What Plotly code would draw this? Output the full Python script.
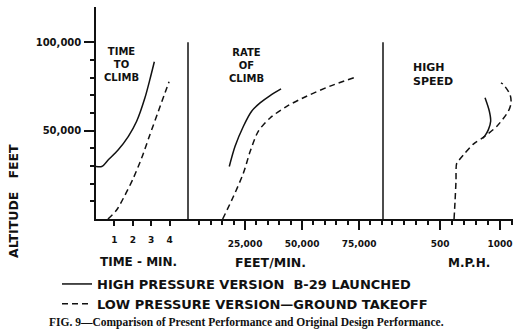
import plotly.graph_objects as go

W, H = 526, 336

# ---------------- data ----------------
# Panel 1: time to climb (minutes) vs altitude (ft)
time_hp_min = [0.0, 0.31, 0.67, 1.21, 1.76, 2.21, 2.66, 2.93, 3.17]
time_hp_alt = [29700, 29700, 33500, 39200, 46800, 55300, 68600, 79000, 89000]
time_lp_min = [0.65, 1.12, 1.58, 2.03, 2.48, 2.93, 3.39, 3.75, 3.97]
time_lp_alt = [0, 5100, 13600, 23100, 34500, 47700, 61000, 71400, 77700]

# Panel 2: rate of climb (ft/min) vs altitude (ft)
roc_hp_fpm = [18100, 20600, 24300, 27900, 31600, 36000, 40800]
roc_hp_alt = [29700, 41000, 52500, 61000, 65700, 69900, 73700]
roc_lp_fpm = [15200, 19900, 24300, 27200, 30800, 36000, 43300, 52000, 62300, 72800]
roc_lp_alt = [0, 12700, 26000, 38000, 49600, 57200, 63800, 69500, 75200, 80000]

# Panel 3: high speed (mph) vs altitude (ft)
spd_hp_mph = [875, 911, 922, 903, 875, 856]
spd_hp_alt = [68600, 61000, 55300, 50600, 47200, 45800]
spd_lp_mph = [617, 625, 633, 639, 661, 708, 778, 861, 972, 1069, 1092, 1083, 1028, 1008]
spd_lp_alt = [0, 9800, 21200, 31600, 33500, 37300, 42400, 46200, 52400, 61000, 65700, 70500, 76100, 77100]

# axis ticks / labels
y_major = [50000, 100000]
y_major_text = ["50,000", "100,000"]
y_minor = [10000, 20000, 30000, 40000, 60000, 70000, 80000, 90000]
t_ticks = [1, 2, 3, 4]
t_text = ["1", "2", "3", "4"]
r_major = [25000, 50000, 75000]
r_major_text = ["25,000", "50,000", "75,000"]
r_minor = list(range(5000, 85001, 5000))
s_major = [500, 1000]
s_major_text = ["500", "1000"]
s_minor = list(range(100, 1101, 100))

hp_name = "HIGH PRESSURE VERSION\u00a0\u00a0B-29 LAUNCHED"
lp_name = "LOW PRESSURE VERSION\u2014GROUND TAKEOFF"

# ---------------- figure ----------------
def px_x(p):
    return p / W

def px_y(p):
    return (H - p) / H

LETTER = "DejaVu Sans"
INK = "#111111"

fig = go.Figure()
line_hp = dict(color=INK, width=1.5, shape="spline", smoothing=0.8)
line_lp = dict(color=INK, width=1.5, dash="6px,4px", shape="spline", smoothing=0.8)

fig.add_trace(go.Scatter(x=time_hp_min, y=time_hp_alt, mode="lines", line=line_hp,
                         xaxis="x", yaxis="y", name=hp_name, legendgroup="hp", cliponaxis=False))
fig.add_trace(go.Scatter(x=time_lp_min, y=time_lp_alt, mode="lines", line=line_lp,
                         xaxis="x", yaxis="y", name=lp_name, legendgroup="lp", cliponaxis=False))
fig.add_trace(go.Scatter(x=roc_hp_fpm, y=roc_hp_alt, mode="lines", line=line_hp,
                         xaxis="x2", yaxis="y", name=hp_name, legendgroup="hp", showlegend=False, cliponaxis=False))
fig.add_trace(go.Scatter(x=roc_lp_fpm, y=roc_lp_alt, mode="lines", line=line_lp,
                         xaxis="x2", yaxis="y", name=lp_name, legendgroup="lp", showlegend=False, cliponaxis=False))
fig.add_trace(go.Scatter(x=spd_hp_mph, y=spd_hp_alt, mode="lines", line=line_hp,
                         xaxis="x3", yaxis="y", name=hp_name, legendgroup="hp", showlegend=False, cliponaxis=False))
fig.add_trace(go.Scatter(x=spd_lp_mph, y=spd_lp_alt, mode="lines", line=line_lp,
                         xaxis="x3", yaxis="y", name=lp_name, legendgroup="lp", showlegend=False, cliponaxis=False))

tickfont = dict(family=LETTER, size=9, color=INK, weight="bold")
xcommon = dict(anchor="y", showline=True, linecolor=INK, linewidth=1.5, showgrid=False,
               zeroline=False, ticks="outside", tickcolor=INK, tickwidth=1.5,
               tickfont=tickfont, ticklabelstandoff=6, fixedrange=True)

fig.update_layout(
    width=W, height=H,
    margin=dict(l=0, r=0, t=0, b=0, autoexpand=False),
    paper_bgcolor="white", plot_bgcolor="white",
    xaxis=dict(domain=[px_x(96), px_x(188)], range=[0, 5],
               tickmode="array", tickvals=t_ticks, ticktext=t_text, ticklen=5, **xcommon),
    xaxis2=dict(domain=[px_x(188), px_x(383)], range=[0, 85500],
                tickmode="array", tickvals=r_major, ticktext=r_major_text, ticklen=9,
                minor=dict(tickmode="array", tickvals=r_minor, ticks="outside", ticklen=4,
                           tickcolor=INK, tickwidth=1.5),
                **xcommon),
    xaxis3=dict(domain=[px_x(383), px_x(513)], range=[25, 1108],
                tickmode="array", tickvals=s_major, ticktext=s_major_text, ticklen=9,
                minor=dict(tickmode="array", tickvals=s_minor, ticks="outside", ticklen=4,
                           tickcolor=INK, tickwidth=1.5),
                **xcommon),
    yaxis=dict(domain=[px_y(219), px_y(7)], range=[0, 120000], anchor="x",
               showline=True, linecolor=INK, linewidth=1.5, showgrid=False, zeroline=False,
               ticks="outside", tickmode="array", tickvals=y_major, ticktext=y_major_text,
               ticklen=10, tickwidth=1.5, tickcolor=INK, tickfont=dict(family=LETTER, size=10, color=INK, weight="bold"),
               ticklabelstandoff=1,
               minor=dict(tickmode="array", tickvals=y_minor, ticks="outside", ticklen=4,
                          tickcolor=INK, tickwidth=1.5),
               fixedrange=True),
    showlegend=True,
    legend=dict(x=px_x(57), y=px_y(269), xanchor="left", yanchor="top",
                bgcolor="rgba(0,0,0,0)", borderwidth=0, itemwidth=30,
                font=dict(family=LETTER, size=13, color=INK, weight="bold"),
                tracegroupgap=0, traceorder="normal"),
)

# panel dividers (vertical separators at the panel boundaries)
for xr in ["x2 domain", "x3 domain"]:
    fig.add_shape(type="line", xref=xr, yref="y", x0=0, x1=0, y0=-4500, y1=100000,
                  line=dict(color=INK, width=1.5))

def note(text, x, y, size, xanchor="center", align="center", family=LETTER, weight="bold", angle=0):
    fig.add_annotation(text=text, xref="paper", yref="paper", x=px_x(x), y=px_y(y),
                       xanchor=xanchor, yanchor="middle", align=align, showarrow=False,
                       textangle=angle,
                       font=dict(family=family, size=size, color=INK, weight=weight))

# panel titles
note("TIME<br>TO<br>CLIMB", 121, 64, 10)
note("RATE<br>OF<br>CLIMB", 246, 65, 10)
note("HIGH<br>SPEED", 411, 74, 11, xanchor="left", align="left")

# axis unit labels
note("TIME - MIN.", 138, 262, 12)
note("FEET/MIN.", 270, 262, 12.5)
note("M.P.H.", 469, 263, 12)

# vertical axis title
note("ALTITUDE\u00a0\u00a0\u00a0FEET", 13, 201, 12.5, angle=-90)

# caption
note("FIG. 9\u2014Comparison of Present Performance and Original Design Performance.",
     246, 322, 11.5, family="Liberation Serif")

fig.write_html("out.html")
